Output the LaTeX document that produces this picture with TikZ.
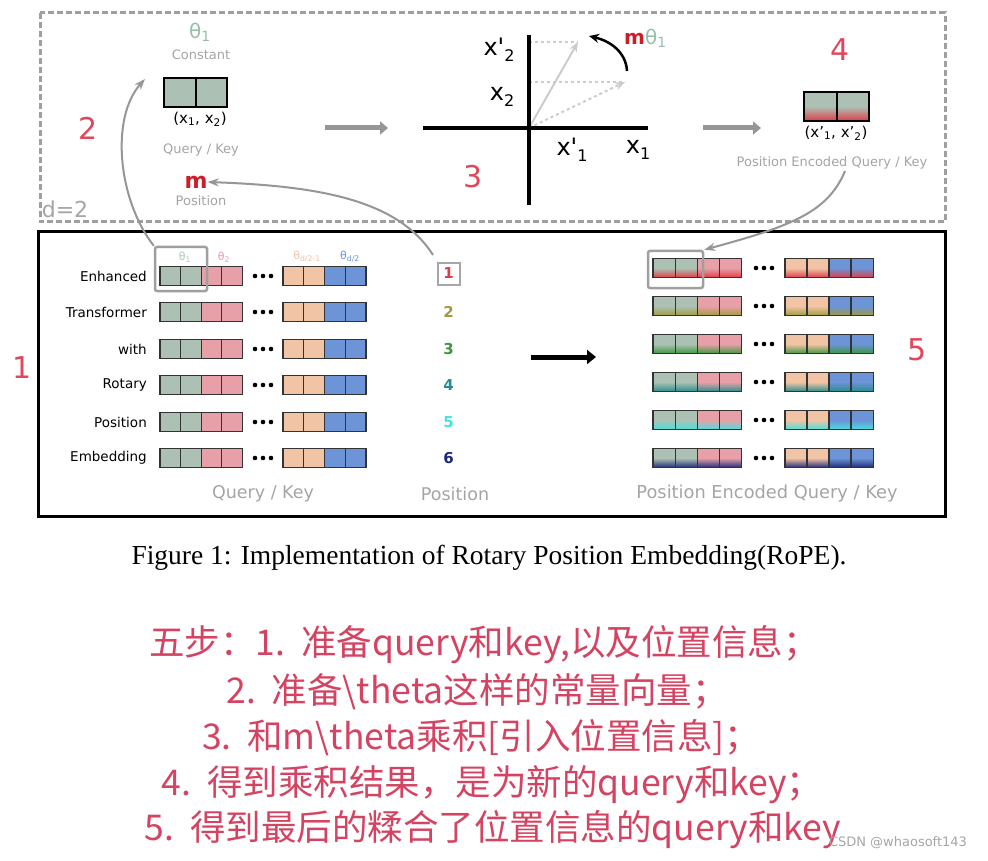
\documentclass[tikz,border=0pt]{standalone}
\usepackage{fontspec}
\setmainfont{DejaVu Sans}
\newfontfamily\dv{DejaVu Sans}
\newfontfamily\capfont{Liberation Serif}
\newfontfamily\cjk{Noto Sans CJK SC}
\usetikzlibrary{arrows.meta,calc}
\newcommand{\myfs}[1]{\fontsize{#1}{#1}\selectfont}
\definecolor{cg}{RGB}{172,193,180}
\definecolor{cgt}{RGB}{150,190,168}
\definecolor{cp}{RGB}{232,160,168}
\definecolor{co}{RGB}{241,196,166}
\definecolor{cb}{RGB}{108,148,214}
\definecolor{p1}{RGB}{222,60,70}
\definecolor{p2}{RGB}{160,155,60}
\definecolor{p3}{RGB}{60,150,60}
\definecolor{p4}{RGB}{40,140,140}
\definecolor{p5}{RGB}{70,225,225}
\definecolor{p6}{RGB}{30,40,120}
\definecolor{lblgray}{RGB}{165,165,165}
\definecolor{garr}{RGB}{150,150,150}
\definecolor{numred}{RGB}{225,70,90}
\definecolor{cjkred}{RGB}{212,68,98}
\definecolor{mred}{RGB}{205,30,40}
\tikzset{
  cell/.style={draw=black!80, line width=1.2pt, minimum height=19.5pt, inner sep=0pt, outer sep=0pt},
  lcell/.style={cell, minimum width=20.6pt},
  rcell/.style={cell, minimum width=22.2pt},
  bigcell/.style={draw=black, line width=2pt, minimum height=29pt, minimum width=32pt, inner sep=0pt},
  lbl/.style={text=lblgray, inner sep=0pt},
  garrow/.style={draw=garr, line width=2pt, -{Stealth[length=11pt,width=8pt]}},
  thickgray/.style={draw=garr, line width=5pt, -{Triangle[length=8pt,width=13pt]}},
  hlbox/.style={draw=gray!75, line width=2.5pt, rounded corners=2pt},
  bignum/.style={text=numred, font=\myfs{30}, inner sep=0pt},
  cjkline/.style={text=cjkred, font=\cjk\myfs{35.5}, inner sep=0pt},
  axlbl/.style={font=\dv\myfs{24}, inner sep=0pt},
}
\begin{document}
\begin{tikzpicture}[x=1pt,y=-1pt]
\useasboundingbox (0,0) rectangle (988,861);
\fill[white] (0,0) rectangle (988,861);
% frames
\draw[draw=gray!75, line width=3pt, dash pattern=on 6pt off 3pt] (40,13) rectangle (945,222);
\draw[line width=3pt] (38,232) rectangle (945,516);

% ---------- top left ----------
\node[text=cgt, font=\myfs{20}, inner sep=0pt] (th1) at (200,32) {θ\textsubscript{1}};
\node[lbl, font=\myfs{13}] (const) at (201,55) {Constant};
\node[bigcell, fill=cg, minimum width=31.5pt] (qka) at (180,92.5) {};
\node[bigcell, fill=cg, minimum width=31.5pt] (qkb) at (211.5,92.5) {};
\node[font=\myfs{15}, inner sep=0pt] (x12) at (200,119) {(x\textsubscript{1}, x\textsubscript{2})};
\node[lbl, font=\myfs{13}] (qkt) at (201,150) {Query / Key};
\node[text=mred, font=\myfs{22}\bfseries, inner sep=0pt] (mm) at (196,182) {m};
\node[lbl, font=\myfs{13}] (post) at (201,201) {Position};
\node[lbl, font=\myfs{22}] (d2) at (65,209) {d=2};
\node[bignum] (n2) at (88,128) {2};

\coordinate (ta1) at (325,128);
\coordinate (ta2) at (388,128);
\draw[thickgray] (ta1) -- (ta2);

% ---------- axes ----------
\coordinate (O) at (529,128);
\coordinate (axl) at (423,128);
\coordinate (axr) at (648,128);
\coordinate (axt) at (529,35);
\coordinate (axb) at (529,205);
\coordinate (v1) at (578,42);
\coordinate (v2) at (625,82);
\draw[gray!40, line width=1.5pt, dashed] (529,42) -| (v1);
\draw[gray!40, line width=1.5pt, dashed] (529,82) -| (v2);
\draw[gray!40, line width=2pt, -{Stealth[length=10pt,width=8pt]}] (O) -- (v1);
\draw[gray!40, line width=2pt, dashed, -{Stealth[length=10pt,width=8pt]}] (O) -- (v2);
\draw[line width=4pt] (axl) -- (axr);
\draw[line width=4pt] (axt) -- (axb);
\node[axlbl] (lx2p) at (499,50) {x'\raisebox{-6pt}{\myfs{16}2}};
\node[axlbl] (lx2) at (502,97) {x\raisebox{-6pt}{\myfs{16}2}};
\node[axlbl] (lx1p) at (572,150) {x'\raisebox{-6pt}{\myfs{16}1}};
\node[axlbl] (lx1) at (638,150) {x\raisebox{-6pt}{\myfs{16}1}};
\coordinate (ra1) at (627,71);
\coordinate (ra2) at (589,36);
\draw[line width=2.5pt, -{Stealth[length=10pt,width=9pt]}] (ra1) .. controls (626,52) and (610,41) .. (ra2);
\node[font=\myfs{20}, inner sep=0pt, anchor=west] (mth) at (624,38) {\textcolor{mred}{\bfseries m}\textcolor{cgt}{θ\textsubscript{1}}};
\node[bignum] (n3) at (473,177) {3};

% ---------- top right ----------
\coordinate (tb1) at (703,128);
\coordinate (tb2) at (761,128);
\draw[thickgray] (tb1) -- (tb2);
\node[bignum] (n4) at (840,50) {4};
\node[bigcell, top color=cg, bottom color=p1, middle color=cg, minimum width=32.5pt] (pea) at (820.25,106.5) {};
\node[bigcell, top color=cg, bottom color=p1, middle color=cg, minimum width=32.5pt] (peb) at (852.75,106.5) {};
\node[font=\myfs{15}, inner sep=0pt] (xp12) at (836,133) {(x'\textsubscript{1}, x'\textsubscript{2})};
\node[lbl, font=\myfs{13}] (peqk) at (832,163) {Position Encoded Query / Key};

% ---------- bottom left: query/key rows ----------
\foreach \r/\y/\nm in {1/276/Enhanced,2/312/Transformer,3/349/with,4/385/Rotary,5/422/Position,6/458/Embedding}{
  \node[anchor=east, font=\myfs{13.5}, inner sep=0pt] (lab\r) at (147,\y) {\nm};
  \foreach \i/\x/\c in {1/160/cg,2/180.6/cg,3/201.2/cp,4/221.8/cp,5/283/co,6/303.8/co,7/324.6/cb,8/345.4/cb}{
    \node[lcell, fill=\c] (q\r-\i) at (\x+10.3,\y) {};
  }
  \fill (255,\y) circle (2.3) (263,\y) circle (2.3) (271,\y) circle (2.3);
}
\node[text=cgt!80, font=\myfs{11}, inner sep=0pt] (tl1) at (185,257) {θ\textsubscript{1}};
\node[text=cp, font=\myfs{11}, inner sep=0pt] (tl2) at (224,257) {θ\textsubscript{2}};
\node[text=co, font=\myfs{11}, inner sep=0pt] (tl3) at (307,257) {θ\textsubscript{d/2-1}};
\node[text=cb, font=\myfs{11}, inner sep=0pt] (tl4) at (350,257) {θ\textsubscript{d/2}};
\node[hlbox, minimum width=52pt, minimum height=44pt, inner sep=0pt] (hl1) at (181,269) {};

% positions
\node[text=p1, font=\myfs{15}\bfseries, draw=gray!70, line width=2pt, minimum size=22pt, inner sep=0pt] (pn1) at (448.5,273.5) {1};
\foreach \r/\y in {2/312,3/349,4/385,5/422,6/458}{
  \node[text=p\r, font=\myfs{15}\bfseries, inner sep=0pt] (pn\r) at (448.5,\y) {\r};
}
\node[lbl, font=\myfs{17.5}] (bqk) at (263,494) {Query / Key};
\node[lbl, font=\myfs{17.5}] (bpos) at (455,494) {Position};

\node[bignum] (n1) at (22,368) {1};

% middle arrow
\coordinate (ma1) at (531,357);
\coordinate (ma2) at (596,357);
\draw[line width=5pt, -{Triangle[length=9pt,width=14pt]}] (ma1) -- (ma2);

% ---------- bottom right: encoded rows ----------
\foreach \r/\y in {1/268,2/306,3/344,4/382,5/420,6/458}{
  \foreach \i/\x/\c in {1/653/cg,2/675.2/cg,3/697.4/cp,4/719.6/cp,5/785/co,6/807/co,7/829/cb,8/851/cb}{
    \node[rcell, top color=\c, bottom color=p\r, middle color=\c] (e\r-\i) at (\x+11.1,\y) {};
  }
  \fill (756,\y) circle (2.3) (764,\y) circle (2.3) (772,\y) circle (2.3);
}
\node[hlbox, minimum width=55pt, minimum height=37pt, inner sep=0pt] (hl2) at (675.5,269.5) {};
\node[lbl, font=\myfs{17.8}] (bpe) at (767,494) {Position Encoded Query / Key};
\node[bignum] (n5) at (917,350) {5};

% ---------- curved gray connectors ----------
\coordinate (c2end) at (145,79);
\draw[garrow] (hl1.north west) .. controls (118,200) and (110,118) .. (c2end);
\coordinate (cmstart) at (433,255);
\draw[garrow] (cmstart) .. controls (398,200) and (320,186) .. (mm.east);
\coordinate (pestart) at (845,171);
\draw[garrow] (pestart) .. controls (828,212) and (792,226) .. (hl2.north east);

% ---------- caption ----------
\node[font=\capfont\myfs{27.5}, inner sep=0pt] (cap) at (489,558) {Figure 1: Implementation of Rotary Position Embedding(RoPE).};

% ---------- Chinese notes ----------
\node[cjkline] (z1) at (484,645) {五步：1.\ \ 准备query和key,以及位置信息；};
\node[cjkline] (z2) at (477,692) {2.\ \ 准备\textbackslash theta这样的常量向量；};
\node[cjkline] (z3) at (481,738) {3.\ \ 和m\textbackslash theta乘积[引入位置信息]；};
\node[cjkline] (z4) at (492,785) {4.\ \ 得到乘积结果，是为新的query和key；};
\node[cjkline] (z5) at (493,830) {5.\ \ 得到最后的糅合了位置信息的query和key};
\node[text=gray!70, font=\myfs{13}, inner sep=0pt] (wm) at (898,843) {CSDN @whaosoft143};
\end{tikzpicture}
\end{document}
